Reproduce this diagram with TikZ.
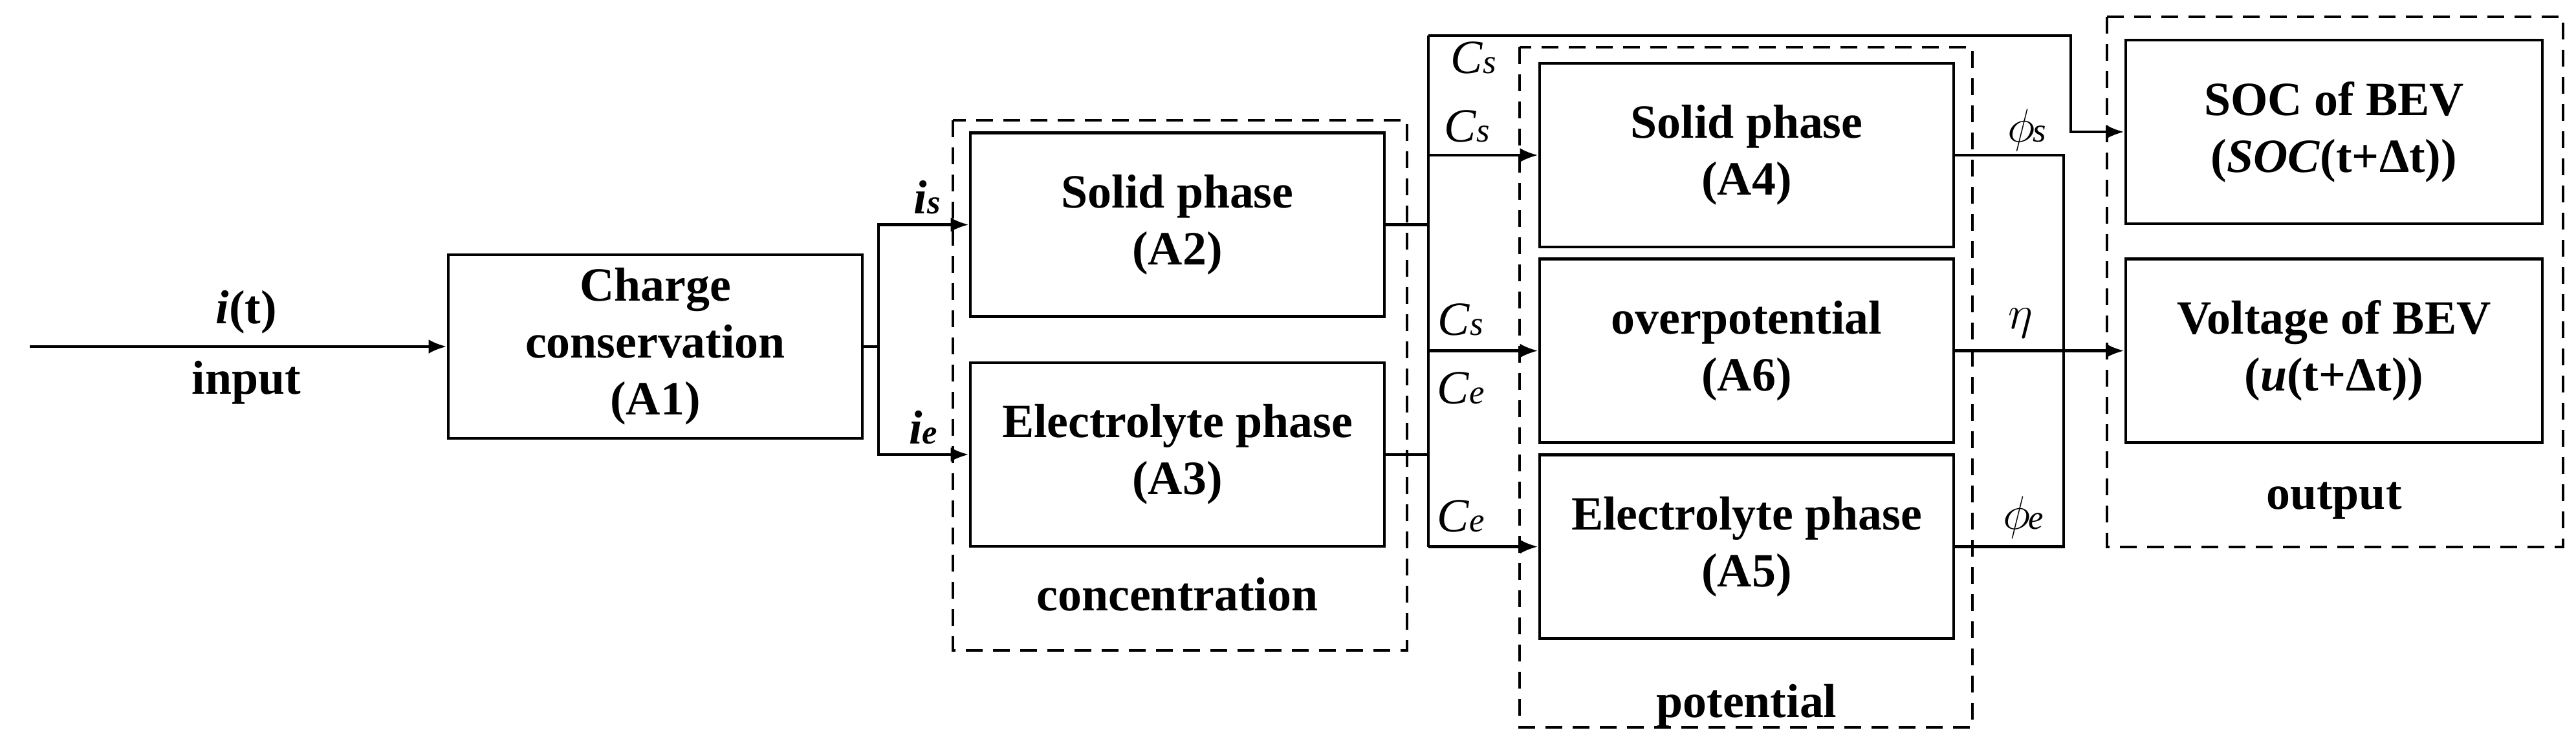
\documentclass[tikz,border=0pt]{standalone}
\usepackage{fontspec}
\setmainfont{Liberation Serif}
\usetikzlibrary{arrows.meta}
\newcommand{\lab}[2]{\textit{#1}{\fontsize{15pt}{15pt}\selectfont\textit{#2}}}
\begin{document}
\begin{tikzpicture}[
    box/.style={draw, line width=1.4pt, rectangle, minimum width=6.4cm, minimum height=2.84cm,
      align=center, font=\fontsize{21pt}{25pt}\selectfont\bfseries},
    wire/.style={line width=1.3pt},
    arr/.style={wire, -{Latex[length=0.28cm, width=0.22cm]}},
    grp/.style={draw, line width=1.3pt, dash pattern=on 0.26cm off 0.16cm},
    txt/.style={font=\fontsize{21pt}{25pt}\selectfont\bfseries},
    lbl/.style={font=\fontsize{21pt}{25pt}\selectfont},
  ]
  \useasboundingbox (0,0) rectangle (39.82,-11.6);

  % dashed groups
  \draw [grp] (14.73,-1.86) rectangle (21.75,-10.06);
  \draw [grp] (23.49,-0.73) rectangle (30.49,-11.25);
  \draw [grp] (32.57,-0.26) rectangle (39.62,-8.46);

  % blocks
  \node [box] (A1) at (10.13,-5.36) {Charge\\conservation\\(A1)};
  \node [box] (A2) at (18.2,-3.475) {Solid phase\\(A2)};
  \node [box] (A3) at (18.2,-7.03) {Electrolyte phase\\(A3)};
  \node [box] (A4) at (27.0,-2.4) {Solid phase\\(A4)};
  \node [box] (A6) at (27.0,-5.425) {overpotential\\(A6)};
  \node [box] (A5) at (27.0,-8.455) {Electrolyte phase\\(A5)};
  \node [box, minimum width=6.44cm] (SOC) at (36.08,-2.04) {SOC of BEV\\(\textit{SOC}(t+Δt))};
  \node [box, minimum width=6.44cm] (U) at (36.08,-5.425) {Voltage of BEV\\(\textit{u}(t+Δt))};

  % group titles
  \node [txt] (tc) at (18.2,-9.19) {concentration};
  \node [txt] (tp) at (27.0,-10.92) {potential};
  \node [txt] (to) at (36.08,-7.75) {output};

  % junctions
  \coordinate (in) at (0.46,-5.36);
  \coordinate (j1) at (13.58,-5.36);
  \coordinate (j2) at (22.08,-5.425);
  \coordinate (top) at (22.08,-0.55);
  \coordinate (tr) at (32.01,-0.55);
  \coordinate (j3) at (31.9,-5.425);

  % wires
  \draw [arr] (in) -- (A1.west);
  \node [lbl] (it) at (3.81,-4.83) {\textbf{\textit{i}(t)}};
  \node [txt] (ip) at (3.81,-5.92) {input};

  \draw [wire] (A1.east) -- (j1);
  \draw [arr] (j1) |- (A2.west);
  \draw [arr] (j1) |- (A3.west);
  \node [lbl] (is) at (14.33,-3.05) {\textbf{\lab{i}{s}}};
  \node [lbl] (ie) at (14.27,-6.61) {\textbf{\lab{i}{e}}};

  \draw [wire] (A2.east) -- (A2.east -| j2);
  \draw [wire] (A3.east) -- (A3.east -| j2);
  \draw [wire] (top) -- (j2 |- A5.west);
  \draw [arr] (A4.west -| j2) -- (A4.west);
  \draw [arr] (j2) -- (A6.west);
  \draw [arr] (A5.west -| j2) -- (A5.west);
  \draw [arr] (top) -- (tr) |- (SOC.west);
  \node [lbl] (c1) at (22.78,-0.89) {\lab{C}{s}};
  \node [lbl] (c2) at (22.68,-1.95) {\lab{C}{s}};
  \node [lbl] (c3) at (22.58,-4.94) {\lab{C}{s}};
  \node [lbl] (c4) at (22.58,-6.0) {\lab{C}{e}};
  \node [lbl] (c5) at (22.58,-7.98) {\lab{C}{e}};

  \draw [wire] (A4.east) -| (j3) |- (A5.east);
  \draw [arr] (A6.east) -- (U.west);
  \node [lbl] (ps) at (31.33,-2.01) {$\phi$\kern-1pt{\fontsize{15pt}{15pt}\selectfont\textit{s}}};
  \node [lbl] (et) at (31.23,-5.0) {$\eta$};
  \node [lbl] (pe) at (31.28,-8.0) {$\phi$\kern-1pt{\fontsize{15pt}{15pt}\selectfont\textit{e}}};
\end{tikzpicture}
\end{document}
